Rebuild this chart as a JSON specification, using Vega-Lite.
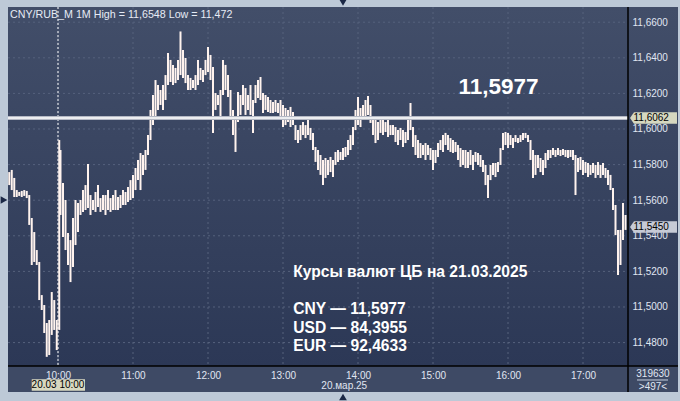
{
"$schema": "https://vega.github.io/schema/vega-lite/v6.json",
"width": 670, "height": 385,
"autosize": {"type": "none"},
"padding": {"left": 8, "top": 7, "right": 2, "bottom": 9},
"background": "#bdc9d7",
"config": {"view": {"stroke": null, "fill": {"gradient": "linear", "x1": 0, "y1": 0, "x2": 0, "y2": 1, "stops": [{"offset": 0, "color": "#424e69"}, {"offset": 0.9325, "color": "#2c3856"}, {"offset": 1, "color": "#2a3654"}]}}, "font": "Liberation Sans",
 "axis": {"title": null, "domain": false, "ticks": false, "tickSize": 0, "grid": false, "labelPadding": 4, "labelColor": "#e0e6f2", "labelFontSize": 10, "labelFlush": false, "labelOverlap": false}},
"data": {"values": [{}]},
"layer": [
{"mark": {"type": "rect", "color": "#3e4a65"},
 "encoding": {"x": {"datum": {"year": 1900, "month": 1, "date": 1, "hours": 9, "minutes": 20}, "type": "temporal"},
  "x2": {"datum": {"year": 1900, "month": 1, "date": 1, "hours": 18, "minutes": 16}},
  "y": {"datum": 11.46685, "type": "quantitative"}, "y2": {"datum": 11.45225}}},
{"data": {"values": [{"g": 11.48}, {"g": 11.50}, {"g": 11.52}, {"g": 11.54}, {"g": 11.56}, {"g": 11.58}, {"g": 11.60}, {"g": 11.62}, {"g": 11.64}, {"g": 11.66}]},
 "mark": {"type": "rule", "color": "#56627d", "strokeWidth": 1, "strokeDash": [2, 3]},
 "encoding": {"y": {"field": "g", "type": "quantitative", "title": null},
  "x": {"datum": {"year": 1900, "month": 1, "date": 1, "hours": 9, "minutes": 20}, "type": "temporal"},
  "x2": {"datum": {"year": 1900, "month": 1, "date": 1, "hours": 17, "minutes": 36}}}},
{"data": {"values": [{"h": "10:00"}, {"h": "11:00"}, {"h": "12:00"}, {"h": "13:00"}, {"h": "14:00"}, {"h": "15:00"}, {"h": "16:00"}, {"h": "17:00"}], "format": {"parse": {"h": "date:'%H:%M'"}}},
 "mark": {"type": "rule", "color": "#56627d", "strokeWidth": 1, "strokeDash": [2, 3]},
 "encoding": {"x": {"field": "h", "type": "temporal", "title": null},
  "y": {"datum": 11.66854, "type": "quantitative"}, "y2": {"datum": 11.46685}}},
{"mark": {"type": "rule", "color": "#ffffff", "strokeWidth": 1, "strokeDash": [2, 2]},
 "encoding": {"x": {"datum": {"year": 1900, "month": 1, "date": 1, "hours": 10, "minutes": 0}, "type": "temporal"},
  "y": {"datum": 11.66854, "type": "quantitative"}, "y2": {"datum": 11.46685}}},
{"data": {"values": [
{"t":"09:21","lo":11.5685,"hi":11.5758},{"t":"09:23","lo":11.5657,"hi":11.5770},{"t":"09:25","lo":11.5618,"hi":11.5725},{"t":"09:27","lo":11.5618,"hi":11.5657},
{"t":"09:29","lo":11.5624,"hi":11.5646},{"t":"09:31","lo":11.5618,"hi":11.5652},{"t":"09:33","lo":11.5624,"hi":11.5657},{"t":"09:35","lo":11.5612,"hi":11.5652},
{"t":"09:37","lo":11.5461,"hi":11.5629},{"t":"09:39","lo":11.5236,"hi":11.5500},{"t":"09:41","lo":11.5253,"hi":11.5421},{"t":"09:43","lo":11.5236,"hi":11.5320},
{"t":"09:45","lo":11.5039,"hi":11.5253},{"t":"09:47","lo":11.4983,"hi":11.5067},{"t":"09:49","lo":11.4854,"hi":11.5011},{"t":"09:51","lo":11.4720,"hi":11.4910},
{"t":"09:53","lo":11.4730,"hi":11.4927},{"t":"09:55","lo":11.4843,"hi":11.5084},{"t":"09:57","lo":11.4871,"hi":11.5039},{"t":"09:59","lo":11.4758,"hi":11.4927},
{"t":"10:01","lo":11.4871,"hi":11.5938},{"t":"10:02","lo":11.5517,"hi":11.5882},{"t":"10:04","lo":11.5393,"hi":11.5697},{"t":"10:06","lo":11.5320,"hi":11.5601},
{"t":"10:08","lo":11.5236,"hi":11.5416},{"t":"10:10","lo":11.5140,"hi":11.5376},{"t":"10:12","lo":11.5225,"hi":11.5500},{"t":"10:14","lo":11.5348,"hi":11.5601},
{"t":"10:16","lo":11.5421,"hi":11.5584},{"t":"10:18","lo":11.5517,"hi":11.5601},{"t":"10:20","lo":11.5534,"hi":11.5657},{"t":"10:22","lo":11.5545,"hi":11.5685},
{"t":"10:24","lo":11.5556,"hi":11.5803},{"t":"10:26","lo":11.5517,"hi":11.5629},{"t":"10:28","lo":11.5545,"hi":11.5601},{"t":"10:30","lo":11.5534,"hi":11.5646},
{"t":"10:32","lo":11.5562,"hi":11.5685},{"t":"10:34","lo":11.5534,"hi":11.5612},{"t":"10:36","lo":11.5545,"hi":11.5629},{"t":"10:38","lo":11.5517,"hi":11.5629},
{"t":"10:40","lo":11.5545,"hi":11.5657},{"t":"10:42","lo":11.5534,"hi":11.5612},{"t":"10:44","lo":11.5545,"hi":11.5629},{"t":"10:46","lo":11.5545,"hi":11.5657},
{"t":"10:48","lo":11.5545,"hi":11.5618},{"t":"10:50","lo":11.5556,"hi":11.5629},{"t":"10:52","lo":11.5573,"hi":11.5657},{"t":"10:54","lo":11.5573,"hi":11.5646},
{"t":"10:56","lo":11.5590,"hi":11.5674},{"t":"10:58","lo":11.5601,"hi":11.5713},{"t":"11:00","lo":11.5612,"hi":11.5742},{"t":"11:02","lo":11.5657,"hi":11.5781},
{"t":"11:04","lo":11.5713,"hi":11.5826},{"t":"11:06","lo":11.5657,"hi":11.5865},{"t":"11:08","lo":11.5742,"hi":11.5854},{"t":"11:10","lo":11.5770,"hi":11.5882},
{"t":"11:12","lo":11.5854,"hi":11.5966},{"t":"11:14","lo":11.5938,"hi":11.6107},{"t":"11:16","lo":11.6022,"hi":11.6191},{"t":"11:18","lo":11.6067,"hi":11.6275},
{"t":"11:20","lo":11.6107,"hi":11.6247},{"t":"11:22","lo":11.6135,"hi":11.6219},{"t":"11:24","lo":11.6107,"hi":11.6247},{"t":"11:26","lo":11.6163,"hi":11.6303},
{"t":"11:28","lo":11.6247,"hi":11.6427},{"t":"11:30","lo":11.6264,"hi":11.6388},{"t":"11:32","lo":11.6247,"hi":11.6360},{"t":"11:34","lo":11.6258,"hi":11.6343},
{"t":"11:36","lo":11.6275,"hi":11.6388},{"t":"11:38","lo":11.6303,"hi":11.6548},{"t":"11:40","lo":11.6287,"hi":11.6444},{"t":"11:42","lo":11.6258,"hi":11.6399},
{"t":"11:44","lo":11.6219,"hi":11.6303},{"t":"11:46","lo":11.6219,"hi":11.6287},{"t":"11:48","lo":11.6230,"hi":11.6275},{"t":"11:50","lo":11.6219,"hi":11.6303},
{"t":"11:52","lo":11.6247,"hi":11.6388},{"t":"11:54","lo":11.6275,"hi":11.6343},{"t":"11:56","lo":11.6264,"hi":11.6331},{"t":"11:58","lo":11.6303,"hi":11.6388},
{"t":"12:00","lo":11.6320,"hi":11.6461},{"t":"12:02","lo":11.6275,"hi":11.6416},{"t":"12:04","lo":11.5978,"hi":11.6348},{"t":"12:06","lo":11.6107,"hi":11.6202},
{"t":"12:08","lo":11.6135,"hi":11.6191},{"t":"12:10","lo":11.6051,"hi":11.6219},{"t":"12:12","lo":11.6191,"hi":11.6388},{"t":"12:14","lo":11.6219,"hi":11.6360},
{"t":"12:16","lo":11.6180,"hi":11.6303},{"t":"12:18","lo":11.6062,"hi":11.6219},{"t":"12:20","lo":11.5966,"hi":11.6107},{"t":"12:22","lo":11.5871,"hi":11.6051},
{"t":"12:24","lo":11.6039,"hi":11.6208},{"t":"12:26","lo":11.6079,"hi":11.6191},{"t":"12:28","lo":11.6135,"hi":11.6247},{"t":"12:30","lo":11.6079,"hi":11.6230},
{"t":"12:32","lo":11.6107,"hi":11.6191},{"t":"12:34","lo":11.6079,"hi":11.6247},{"t":"12:36","lo":11.5978,"hi":11.6163},{"t":"12:38","lo":11.6146,"hi":11.6247},
{"t":"12:40","lo":11.6174,"hi":11.6275},{"t":"12:42","lo":11.6163,"hi":11.6292},{"t":"12:44","lo":11.6090,"hi":11.6202},{"t":"12:46","lo":11.6107,"hi":11.6191},
{"t":"12:48","lo":11.6096,"hi":11.6180},{"t":"12:50","lo":11.6090,"hi":11.6163},{"t":"12:52","lo":11.6090,"hi":11.6152},{"t":"12:54","lo":11.6096,"hi":11.6163},
{"t":"12:56","lo":11.6090,"hi":11.6146},{"t":"12:58","lo":11.6062,"hi":11.6163},{"t":"13:00","lo":11.6011,"hi":11.6135},{"t":"13:02","lo":11.6022,"hi":11.6118},
{"t":"13:04","lo":11.6039,"hi":11.6107},{"t":"13:06","lo":11.6011,"hi":11.6124},{"t":"13:08","lo":11.6022,"hi":11.6096},{"t":"13:10","lo":11.5938,"hi":11.6022},
{"t":"13:12","lo":11.5921,"hi":11.5994},{"t":"13:14","lo":11.5938,"hi":11.6022},{"t":"13:16","lo":11.5966,"hi":11.6039},{"t":"13:18","lo":11.5949,"hi":11.6022},
{"t":"13:20","lo":11.5966,"hi":11.6051},{"t":"13:22","lo":11.5938,"hi":11.6006},{"t":"13:24","lo":11.5882,"hi":11.5978},{"t":"13:26","lo":11.5815,"hi":11.5899},
{"t":"13:28","lo":11.5770,"hi":11.5882},{"t":"13:30","lo":11.5742,"hi":11.5854},{"t":"13:32","lo":11.5685,"hi":11.5826},{"t":"13:34","lo":11.5725,"hi":11.5837},
{"t":"13:36","lo":11.5742,"hi":11.5826},{"t":"13:38","lo":11.5758,"hi":11.5843},{"t":"13:40","lo":11.5730,"hi":11.5826},{"t":"13:42","lo":11.5798,"hi":11.5871},
{"t":"13:44","lo":11.5815,"hi":11.5882},{"t":"13:46","lo":11.5826,"hi":11.5871},{"t":"13:48","lo":11.5826,"hi":11.5893},{"t":"13:50","lo":11.5843,"hi":11.5899},
{"t":"13:52","lo":11.5854,"hi":11.5938},{"t":"13:54","lo":11.5882,"hi":11.5966},{"t":"13:56","lo":11.5910,"hi":11.6011},{"t":"13:58","lo":11.5994,"hi":11.6107},
{"t":"14:00","lo":11.6022,"hi":11.6180},{"t":"14:02","lo":11.6011,"hi":11.6118},{"t":"14:04","lo":11.6051,"hi":11.6135},{"t":"14:06","lo":11.6062,"hi":11.6163},
{"t":"14:08","lo":11.6079,"hi":11.6185},{"t":"14:10","lo":11.6034,"hi":11.6135},{"t":"14:12","lo":11.5966,"hi":11.6062},{"t":"14:14","lo":11.5921,"hi":11.6051},
{"t":"14:16","lo":11.5938,"hi":11.6039},{"t":"14:18","lo":11.5978,"hi":11.6051},{"t":"14:20","lo":11.5966,"hi":11.6062},{"t":"14:22","lo":11.5983,"hi":11.6039},
{"t":"14:24","lo":11.5955,"hi":11.6051},{"t":"14:26","lo":11.5966,"hi":11.6022},{"t":"14:28","lo":11.5966,"hi":11.6022},{"t":"14:30","lo":11.5927,"hi":11.6011},
{"t":"14:32","lo":11.5910,"hi":11.5994},{"t":"14:34","lo":11.5938,"hi":11.6006},{"t":"14:36","lo":11.5899,"hi":11.5994},{"t":"14:38","lo":11.5921,"hi":11.5983},
{"t":"14:40","lo":11.5938,"hi":11.6051},{"t":"14:42","lo":11.5994,"hi":11.6146},{"t":"14:44","lo":11.5899,"hi":11.6011},{"t":"14:46","lo":11.5854,"hi":11.5966},
{"t":"14:48","lo":11.5837,"hi":11.5938},{"t":"14:50","lo":11.5837,"hi":11.5921},{"t":"14:52","lo":11.5854,"hi":11.5910},{"t":"14:54","lo":11.5826,"hi":11.5921},
{"t":"14:56","lo":11.5854,"hi":11.5910},{"t":"14:58","lo":11.5826,"hi":11.5893},{"t":"15:00","lo":11.5770,"hi":11.5882},{"t":"15:02","lo":11.5809,"hi":11.5882},
{"t":"15:04","lo":11.5843,"hi":11.5921},{"t":"15:06","lo":11.5882,"hi":11.5938},{"t":"15:08","lo":11.5871,"hi":11.5966},{"t":"15:10","lo":11.5910,"hi":11.5978},
{"t":"15:12","lo":11.5882,"hi":11.5966},{"t":"15:14","lo":11.5871,"hi":11.5949},{"t":"15:16","lo":11.5865,"hi":11.5938},{"t":"15:18","lo":11.5871,"hi":11.5927},
{"t":"15:20","lo":11.5826,"hi":11.5910},{"t":"15:22","lo":11.5787,"hi":11.5893},{"t":"15:24","lo":11.5798,"hi":11.5882},{"t":"15:26","lo":11.5781,"hi":11.5882},
{"t":"15:28","lo":11.5781,"hi":11.5871},{"t":"15:30","lo":11.5798,"hi":11.5882},{"t":"15:32","lo":11.5770,"hi":11.5854},{"t":"15:34","lo":11.5815,"hi":11.5871},
{"t":"15:36","lo":11.5798,"hi":11.5865},{"t":"15:38","lo":11.5787,"hi":11.5854},{"t":"15:40","lo":11.5758,"hi":11.5826},{"t":"15:42","lo":11.5685,"hi":11.5798},
{"t":"15:44","lo":11.5612,"hi":11.5742},{"t":"15:46","lo":11.5713,"hi":11.5798},{"t":"15:48","lo":11.5742,"hi":11.5809},{"t":"15:50","lo":11.5730,"hi":11.5809},
{"t":"15:52","lo":11.5758,"hi":11.5815},{"t":"15:54","lo":11.5798,"hi":11.5893},{"t":"15:56","lo":11.5882,"hi":11.5978},{"t":"15:58","lo":11.5910,"hi":11.5983},
{"t":"16:00","lo":11.5893,"hi":11.5978},{"t":"16:02","lo":11.5910,"hi":11.5966},{"t":"16:04","lo":11.5893,"hi":11.5949},{"t":"16:06","lo":11.5927,"hi":11.5966},
{"t":"16:08","lo":11.5921,"hi":11.5949},{"t":"16:10","lo":11.5927,"hi":11.5966},{"t":"16:12","lo":11.5938,"hi":11.5978},{"t":"16:14","lo":11.5949,"hi":11.5978},
{"t":"16:16","lo":11.5927,"hi":11.5966},{"t":"16:18","lo":11.5826,"hi":11.5938},{"t":"16:20","lo":11.5725,"hi":11.5882},{"t":"16:22","lo":11.5742,"hi":11.5854},
{"t":"16:24","lo":11.5781,"hi":11.5854},{"t":"16:26","lo":11.5758,"hi":11.5837},{"t":"16:28","lo":11.5742,"hi":11.5826},{"t":"16:30","lo":11.5781,"hi":11.5865},
{"t":"16:32","lo":11.5826,"hi":11.5882},{"t":"16:34","lo":11.5837,"hi":11.5882},{"t":"16:36","lo":11.5854,"hi":11.5893},{"t":"16:38","lo":11.5843,"hi":11.5882},
{"t":"16:40","lo":11.5854,"hi":11.5893},{"t":"16:42","lo":11.5848,"hi":11.5882},{"t":"16:44","lo":11.5854,"hi":11.5888},{"t":"16:46","lo":11.5843,"hi":11.5882},
{"t":"16:48","lo":11.5837,"hi":11.5882},{"t":"16:50","lo":11.5843,"hi":11.5882},{"t":"16:52","lo":11.5826,"hi":11.5882},{"t":"16:54","lo":11.5629,"hi":11.5854},
{"t":"16:56","lo":11.5758,"hi":11.5837},{"t":"16:58","lo":11.5770,"hi":11.5843},{"t":"17:00","lo":11.5742,"hi":11.5826},{"t":"17:02","lo":11.5753,"hi":11.5815},
{"t":"17:04","lo":11.5730,"hi":11.5809},{"t":"17:06","lo":11.5742,"hi":11.5798},{"t":"17:08","lo":11.5753,"hi":11.5809},{"t":"17:10","lo":11.5725,"hi":11.5798},
{"t":"17:12","lo":11.5742,"hi":11.5815},{"t":"17:14","lo":11.5725,"hi":11.5798},{"t":"17:16","lo":11.5742,"hi":11.5809},{"t":"17:18","lo":11.5725,"hi":11.5781},
{"t":"17:20","lo":11.5685,"hi":11.5770},{"t":"17:22","lo":11.5657,"hi":11.5742},{"t":"17:24","lo":11.5545,"hi":11.5669},{"t":"17:26","lo":11.5404,"hi":11.5573},
{"t":"17:28","lo":11.5180,"hi":11.5433},{"t":"17:30","lo":11.5236,"hi":11.5433},{"t":"17:32","lo":11.5376,"hi":11.5584},{"t":"17:34","lo":11.5433,"hi":11.5517}
], "format": {"parse": {"t": "date:'%H:%M'"}}},
 "mark": {"type": "rule", "color": "#fff3ee", "strokeWidth": 2},
 "encoding": {
  "x": {"field": "t", "type": "temporal",
   "scale": {"domain": [{"year": 1900, "month": 1, "date": 1, "hours": 9, "minutes": 20}, {"year": 1900, "month": 1, "date": 1, "hours": 17, "minutes": 36}], "range": [0, 620], "nice": false},
   "axis": {"orient": "bottom", "offset": -26, "zindex": 1, "title": null, "format": "%H:%M",
    "values": [{"year": 1900, "month": 1, "date": 1, "hours": 10}, {"year": 1900, "month": 1, "date": 1, "hours": 11}, {"year": 1900, "month": 1, "date": 1, "hours": 12}, {"year": 1900, "month": 1, "date": 1, "hours": 13}, {"year": 1900, "month": 1, "date": 1, "hours": 14}, {"year": 1900, "month": 1, "date": 1, "hours": 15}, {"year": 1900, "month": 1, "date": 1, "hours": 16}, {"year": 1900, "month": 1, "date": 1, "hours": 17}]}},
  "y": {"field": "lo", "type": "quantitative",
   "scale": {"domain": [11.46685, 11.66854], "range": [359, 0], "nice": false, "zero": false},
   "axis": {"orient": "right", "offset": -50, "zindex": 0, "title": null,
    "values": [11.48, 11.50, 11.52, 11.54, 11.56, 11.58, 11.60, 11.62, 11.64, 11.66],
    "labelExpr": "replace(format(datum.value, '.4f'), '.', ',')"}},
  "y2": {"field": "hi"}}},
{"mark": {"type": "rule", "color": "#b4b8c4", "strokeWidth": 4},
 "encoding": {"y": {"datum": 11.6062, "type": "quantitative"},
  "x": {"datum": {"year": 1900, "month": 1, "date": 1, "hours": 9, "minutes": 20}, "type": "temporal"},
  "x2": {"datum": {"year": 1900, "month": 1, "date": 1, "hours": 17, "minutes": 36}}}},
{"mark": {"type": "rule", "color": "#ffffff", "strokeWidth": 1.5},
 "encoding": {"y": {"datum": 11.6062, "type": "quantitative"},
  "x": {"datum": {"year": 1900, "month": 1, "date": 1, "hours": 9, "minutes": 20}, "type": "temporal"},
  "x2": {"datum": {"year": 1900, "month": 1, "date": 1, "hours": 17, "minutes": 36}}}},
{"mark": {"type": "rule", "color": "#000000", "strokeWidth": 1.5},
 "encoding": {"x": {"datum": {"year": 1900, "month": 1, "date": 1, "hours": 17, "minutes": 36}, "type": "temporal"}}},
{"mark": {"type": "rule", "color": "#000000", "strokeWidth": 1.5},
 "encoding": {"y": {"datum": 11.46685, "type": "quantitative"}}},
{"mark": {"type": "point", "filled": true, "opacity": 1, "shape": "M-1,0L-0.83,-0.245L1,-0.245L1,0.245L-0.83,0.245Z", "size": 2209, "color": "#d6d8c0"},
 "encoding": {"x": {"datum": {"year": 1900, "month": 1, "date": 1, "hours": 17, "minutes": 56, "seconds": 24}, "type": "temporal"},
  "y": {"datum": 11.6062, "type": "quantitative"}}},
{"mark": {"type": "point", "filled": true, "opacity": 1, "shape": "M-1,0L-0.83,-0.245L1,-0.245L1,0.245L-0.83,0.245Z", "size": 2209, "color": "#c6cad6"},
 "encoding": {"x": {"datum": {"year": 1900, "month": 1, "date": 1, "hours": 17, "minutes": 56, "seconds": 24}, "type": "temporal"},
  "y": {"datum": 11.5450, "type": "quantitative"}}},
{"mark": {"type": "text", "text": "11,6062", "align": "left", "baseline": "middle", "fontSize": 10, "color": "#000000"},
 "encoding": {"x": {"datum": {"year": 1900, "month": 1, "date": 1, "hours": 17, "minutes": 40, "seconds": 24}, "type": "temporal"},
  "y": {"datum": 11.6062, "type": "quantitative"}}},
{"mark": {"type": "text", "text": "11,5450", "align": "left", "baseline": "middle", "fontSize": 10, "color": "#000000"},
 "encoding": {"x": {"datum": {"year": 1900, "month": 1, "date": 1, "hours": 17, "minutes": 40, "seconds": 24}, "type": "temporal"},
  "y": {"datum": 11.5450, "type": "quantitative"}}},
{"mark": {"type": "text", "text": "CNY/RUB_M 1M High = 11,6548 Low = 11,472", "align": "left", "baseline": "middle", "fontSize": 10.7, "color": "#e6ebf5"},
 "encoding": {"x": {"datum": {"year": 1900, "month": 1, "date": 1, "hours": 9, "minutes": 21, "seconds": 36}, "type": "temporal"},
  "y": {"datum": 11.66405, "type": "quantitative"}}},
{"mark": {"type": "text", "text": "11,5977", "align": "center", "baseline": "alphabetic", "fontSize": 22.5, "fontWeight": "bold", "color": "#ffffff"},
 "encoding": {"x": {"datum": {"year": 1900, "month": 1, "date": 1, "hours": 15, "minutes": 52, "seconds": 24}, "type": "temporal"},
  "y": {"datum": 11.6197, "type": "quantitative"}}},
{"mark": {"type": "text", "text": "Курсы валют ЦБ на 21.03.2025", "align": "left", "baseline": "alphabetic", "fontSize": 15.6, "fontWeight": "bold", "color": "#ffffff"},
 "encoding": {"x": {"datum": {"year": 1900, "month": 1, "date": 1, "hours": 13, "minutes": 8, "seconds": 14}, "type": "temporal"},
  "y": {"datum": 11.51669, "type": "quantitative"}}},
{"mark": {"type": "text", "text": ["CNY — 11,5977", "USD — 84,3955", "EUR — 92,4633"], "lineHeight": 18.3, "align": "left", "baseline": "alphabetic", "fontSize": 15.6, "fontWeight": "bold", "color": "#ffffff"},
 "encoding": {"x": {"datum": {"year": 1900, "month": 1, "date": 1, "hours": 13, "minutes": 8, "seconds": 14}, "type": "temporal"},
  "y": {"datum": 11.4959, "type": "quantitative"}}},
{"mark": {"type": "rect", "color": "#d8d8c0"},
 "encoding": {"x": {"datum": {"year": 1900, "month": 1, "date": 1, "hours": 9, "minutes": 39}, "type": "temporal"},
  "x2": {"datum": {"year": 1900, "month": 1, "date": 1, "hours": 10, "minutes": 21, "seconds": 36}},
  "y": {"datum": 11.45938, "type": "quantitative"}, "y2": {"datum": 11.45298}}},
{"mark": {"type": "text", "text": "20.03 10:00", "align": "center", "baseline": "middle", "fontSize": 10, "color": "#000000"},
 "encoding": {"x": {"datum": {"year": 1900, "month": 1, "date": 1, "hours": 10, "minutes": 0}, "type": "temporal"},
  "y": {"datum": 11.45618, "type": "quantitative"}}},
{"mark": {"type": "text", "text": "20.мар.25", "align": "center", "baseline": "middle", "fontSize": 10, "color": "#e0e6f2"},
 "encoding": {"x": {"datum": {"year": 1900, "month": 1, "date": 1, "hours": 13, "minutes": 49}, "type": "temporal"},
  "y": {"datum": 11.45562, "type": "quantitative"}}},
{"mark": {"type": "text", "text": "319630", "align": "center", "baseline": "middle", "fontSize": 10, "color": "#e0e6f2"},
 "encoding": {"x": {"datum": {"year": 1900, "month": 1, "date": 1, "hours": 17, "minutes": 56}, "type": "temporal"},
  "y": {"datum": 11.46236, "type": "quantitative"}}},
{"mark": {"type": "rule", "color": "#c8d0e0", "strokeWidth": 1},
 "encoding": {"x": {"datum": {"year": 1900, "month": 1, "date": 1, "hours": 17, "minutes": 43, "seconds": 12}, "type": "temporal"},
  "x2": {"datum": {"year": 1900, "month": 1, "date": 1, "hours": 18, "minutes": 8}},
  "y": {"datum": 11.45899, "type": "quantitative"}}},
{"mark": {"type": "text", "text": ">497<", "align": "center", "baseline": "middle", "fontSize": 10, "color": "#e0e6f2"},
 "encoding": {"x": {"datum": {"year": 1900, "month": 1, "date": 1, "hours": 17, "minutes": 56}, "type": "temporal"},
  "y": {"datum": 11.45506, "type": "quantitative"}}},
{"mark": {"type": "point", "filled": true, "opacity": 1, "shape": "triangle-down", "size": 60, "color": "#1b2846"},
 "encoding": {"x": {"datum": {"year": 1900, "month": 1, "date": 1, "hours": 13, "minutes": 48}, "type": "temporal"},
  "y": {"datum": 11.67107, "type": "quantitative"}}},
{"mark": {"type": "point", "filled": true, "opacity": 1, "shape": "triangle-up", "size": 60, "color": "#1b2846"},
 "encoding": {"x": {"datum": {"year": 1900, "month": 1, "date": 1, "hours": 13, "minutes": 48}, "type": "temporal"},
  "y": {"datum": 11.44944, "type": "quantitative"}}},
{"mark": {"type": "point", "filled": true, "opacity": 1, "shape": "triangle-right", "size": 60, "color": "#1b2846"},
 "encoding": {"x": {"datum": {"year": 1900, "month": 1, "date": 1, "hours": 9, "minutes": 16, "seconds": 48}, "type": "temporal"},
  "y": {"datum": 11.56011, "type": "quantitative"}}}
]
}
